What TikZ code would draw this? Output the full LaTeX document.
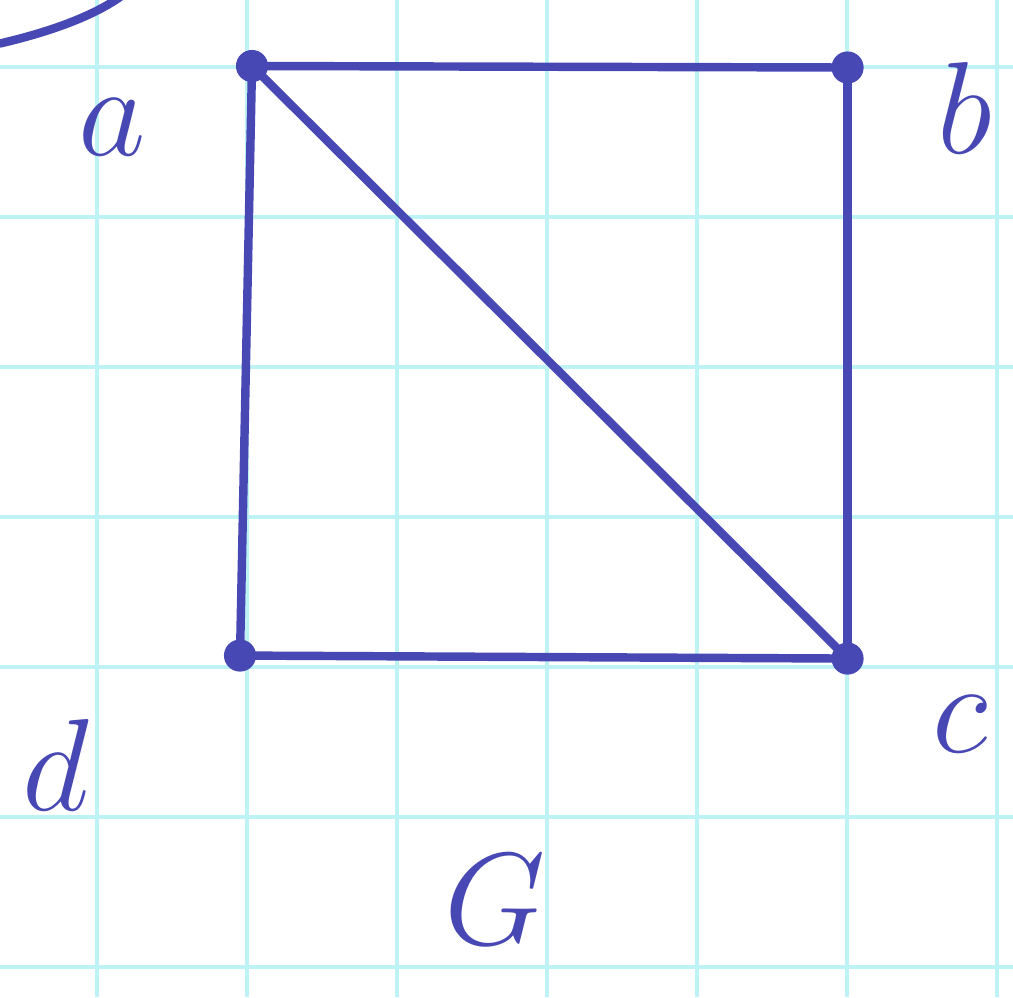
\documentclass[tikz,border=0pt]{standalone}
\usepackage{tikz}
\usetikzlibrary{positioning}
\definecolor{InkBlue}{RGB}{72,72,180}
\definecolor{GridCyan}{RGB}{190,243,245}
\tikzset{
    gridline/.style={GridCyan,line width=0.7pt},
    graphedge/.style={InkBlue,line width=1.6pt,line cap=round},
    vertexdot/.style={circle,draw=InkBlue,fill=InkBlue,minimum size=2mm,inner sep=0pt},
    vlabel/.style={InkBlue,font=\fontsize{32}{32}\selectfont}
}
\begin{document}
\begin{tikzpicture}
\useasboundingbox (0,0) rectangle (6.753,-6.647);

				% grid paper
				\foreach \gx in {0,...,6}
					\draw[gridline] (0.647+\gx,0) -- (0.647+\gx,-6.647);
				\foreach \gy in {0,...,6}
					\draw[gridline] (0,-0.447-\gy) -- (6.753,-0.447-\gy);

				% arc at top left
				\draw[graphedge] (0,-0.29) .. controls (0.3,-0.22) and (0.6,-0.12) .. (0.8,0.02);

				% vertices
				\node[vertexdot] (a) at (1.68,-0.44) {};
				\node[vertexdot] (b) at (5.65,-0.45) {};
				\node[vertexdot] (c) at (5.65,-4.39) {};
				\node[vertexdot] (d) at (1.6,-4.37) {};

				% edges
				\draw[graphedge] (a.center) -- (b.center);
				\draw[graphedge] (b.center) -- (c.center);
				\draw[graphedge] (c.center) -- (d.center);
				\draw[graphedge] (d.center) -- (a.center);
				\draw[graphedge] (a.center) -- (c.center);

				% labels
				\node[vlabel] (la) at (0.75,-0.85) {$a$};
				\node[vlabel] (lb) at (6.43,-0.72) {$b$};
				\node[vlabel] (lc) at (6.4,-4.83) {$c$};
				\node[vlabel] (ld) at (0.37,-5.1) {$d$};
				\node[InkBlue,font=\fontsize{52}{52}\selectfont] (gname) at (3.3,-6.0) {$G$};
\end{tikzpicture}
\end{document}
